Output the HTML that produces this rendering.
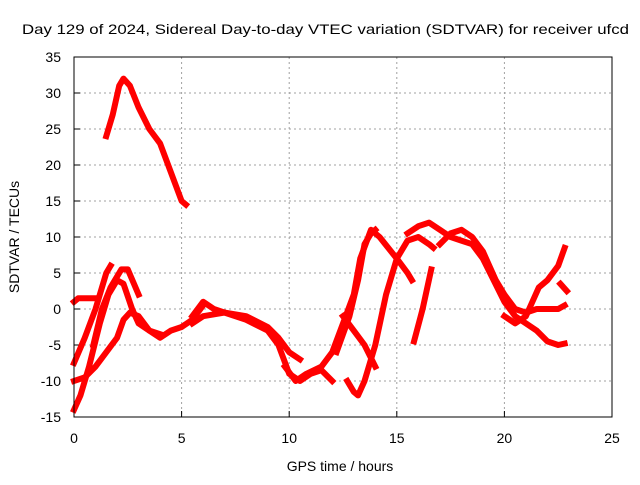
<!DOCTYPE html>
<html><head><meta charset="utf-8"><style>
body{margin:0;background:#fff}
svg text{font-family:"Liberation Sans",sans-serif;font-size:14px;fill:#000}
</style></head><body>
<svg id="chart" width="640" height="480" xmlns="http://www.w3.org/2000/svg">
<text x="22" y="34" font-size="15" textLength="607" lengthAdjust="spacingAndGlyphs">Day 129 of 2024, Sidereal Day-to-day VTEC variation (SDTVAR) for receiver ufcd</text>
<text x="340" y="471" text-anchor="middle">GPS time / hours</text>
<text transform="translate(19,237) rotate(-90)" text-anchor="middle">SDTVAR / TECUs</text>
<g id="grid"></g>
<g id="series"></g>
<rect x="74" y="57" width="538" height="360" fill="none" stroke="#000" stroke-width="1"/>
</svg>
<script>
const xTicks=[0,5,10,15,20,25];
const yTicks=[-15,-10,-5,0,5,10,15,20,25,30,35];
const s1=[[1.5,24],[1.8,27],[2.1,31],[2.3,32],[2.6,31],[3,28],[3.5,25],[4,23],[4.5,19],[5,15],[5.2,14.5]];
const s2=[[0,-7.5],[0.5,-4],[1,0],[1.5,5],[1.7,6]];
const s3=[[0,-14],[0.3,-12],[0.7,-8],[1.2,-2],[1.6,2],[2,4],[2.3,3.5],[2.7,0],[3,-2],[3.5,-3],[4,-4],[4.5,-3],[5,-2.5],[5.5,-1.5],[6,0.5]];
const s4=[[0,-10],[0.5,-9.5],[1,-8],[1.5,-6],[2,-4],[2.3,-1.5],[2.6,-0.5],[3,-1],[3.5,-3],[4,-3.5]];
const s5=[[0.9,-5],[1.3,0],[1.7,3],[2.2,5.5],[2.5,5.5],[3,2]];
const s6=[[0,1],[0.2,1.5],[0.6,1.5],[1,1.5]];
const s7=[[5.5,-1],[6,1],[6.5,0],[7,-0.5],[8,-1],[9,-2.5],[9.5,-4],[10,-6],[10.5,-7]];
const s8=[[5.5,-2],[6,-1],[7,-0.5],[8,-1.5],[9,-3],[9.5,-5],[10,-9],[10.5,-10],[11,-9],[11.5,-8.5],[12,-10]];
const s9=[[9.8,-8],[10.3,-10],[10.8,-9],[11.5,-8],[12,-6],[12.5,-2],[13,2],[13.3,7],[13.8,11],[14.2,10],[15,7],[15.5,5],[15.7,4]];
const s10=[[12.2,-6],[12.8,-1],[13.2,4],[13.5,9],[13.8,10.5],[14,11]];
const s11=[[12.5,-1],[13,-3],[13.5,-5],[14,-8]];
const s12=[[12.7,-10],[13,-11.5],[13.2,-12],[13.5,-10],[14,-5],[14.5,2],[15,7],[15.5,9.5],[16,10],[16.5,9],[16.7,8.5]];
const s13=[[15.8,-4.5],[16.2,0],[16.6,5.5]];
const s14=[[15.5,10.5],[16,11.5],[16.5,12],[17,11],[17.5,10],[18,9.5],[18.5,9],[19,7],[19.5,4],[20,1],[20.5,-1],[21,-2],[21.5,-3],[22,-4.5],[22.5,-5],[22.8,-4.8]];
const s15=[[17,9],[17.5,10.5],[18,11],[18.5,10],[19,8],[19.3,6],[19.6,4],[20,2],[20.5,0],[21,-0.5],[21.5,0],[22,0],[22.5,0],[22.8,0.5]];
const s16=[[20,-1],[20.5,-2],[21,-1],[21.3,1],[21.6,3],[22,4],[22.5,6],[22.8,8.5]];
const s17=[[22.6,3.5],[22.9,2.5]];
const allSeries=[s1,s2,s3,s4,s5,s6,s7,s8,s9,s10,s11,s12,s13,s14,s15,s16,s17];
const X=v=>74+v*538/25, Y=v=>417-(v+15)*360/50;
const NS='http://www.w3.org/2000/svg';
const grid=document.getElementById('grid'), ser=document.getElementById('series'), svg=document.getElementById('chart');
function mk(tag,at,parent){const e=document.createElementNS(NS,tag);for(const k in at)e.setAttribute(k,at[k]);parent.appendChild(e);return e;}
xTicks.forEach(t=>{
  if(t>0&&t<25){const l=mk('line',{x1:X(t),x2:X(t),y1:57,y2:417,stroke:'#a0a0a0','stroke-dasharray':'2,3'},grid);
  
  }
  const tk=mk('line',{x1:X(t),x2:X(t),y1:417,y2:411,stroke:'#000'},grid);
  
  
  const tx=mk('text',{x:X(t),y:443,'text-anchor':'middle'},svg);tx.textContent=t;
  
  
});
yTicks.forEach(t=>{
  if(t>-15&&t<35){const l=mk('line',{x1:74,x2:612,y1:Y(t),y2:Y(t),stroke:'#a0a0a0','stroke-dasharray':'2,3'},grid);
  
  }
  const tk=mk('line',{x1:74,x2:80,y1:Y(t),y2:Y(t),stroke:'#000'},grid);
  
  
  const tx=mk('text',{x:61,y:Y(t)+5,'text-anchor':'end'},svg);tx.textContent=t;
  
  
});
allSeries.forEach(s=>{
  const p=mk('polyline',{points:s.map(d=>X(d[0])+','+Y(d[1])).join(' '),fill:'none',stroke:'#ff0000','stroke-width':6,'stroke-linejoin':'round','stroke-linecap':'square'},ser);
  
  
});
</script>
</body></html>
